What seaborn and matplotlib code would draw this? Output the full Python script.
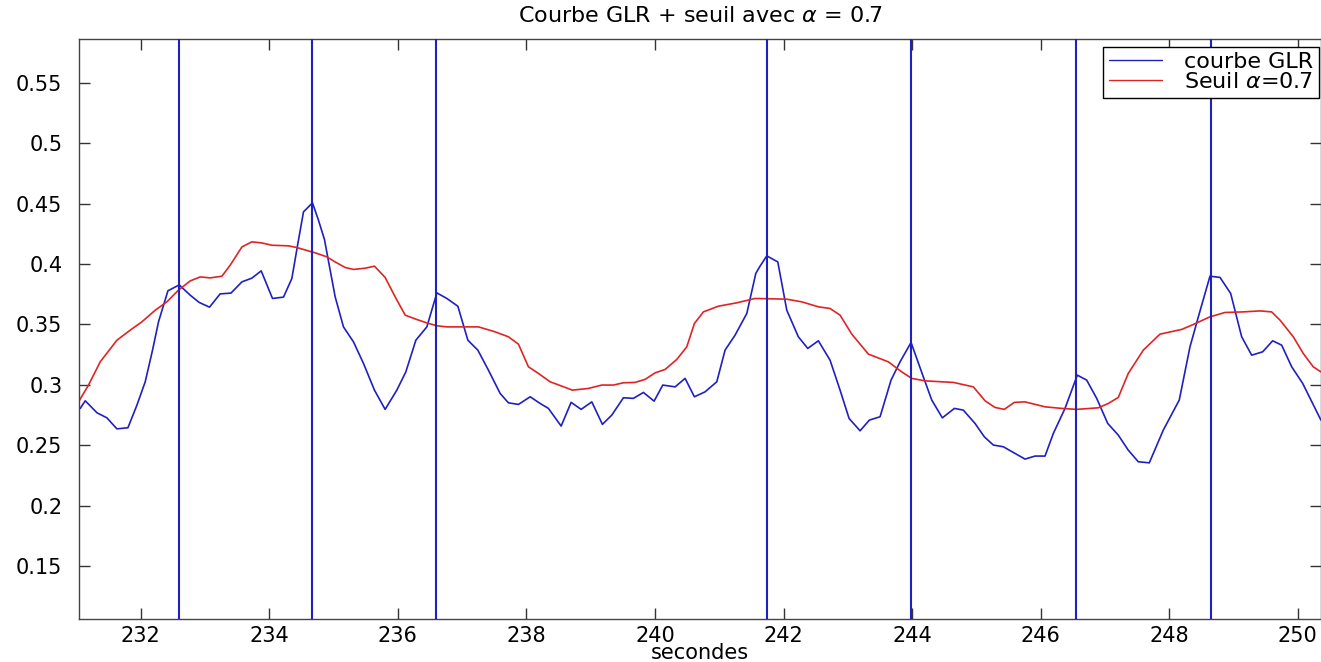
import numpy as np
import pandas as pd
import matplotlib
matplotlib.use("Agg")
import matplotlib.pyplot as plt
from matplotlib.ticker import FormatStrFormatter
import seaborn as sns

# GLR curve (time in seconds, value)
glr_t = [231.059, 231.137, 231.319, 231.474, 231.630, 231.801, 231.941, 232.070, 232.184, 232.277,
         232.423, 232.599, 232.770, 232.910, 233.070, 233.236, 233.403, 233.574, 233.729, 233.874,
         234.050, 234.221, 234.351, 234.445, 234.532, 234.672, 234.765, 234.858, 234.947, 235.025,
         235.154, 235.310, 235.465, 235.636, 235.802, 235.984, 236.124, 236.280, 236.451, 236.607,
         236.762, 236.933, 237.089, 237.244, 237.409, 237.591, 237.720, 237.876, 238.058, 238.213,
         238.342, 238.540, 238.695, 238.851, 239.017, 239.182, 239.328, 239.509, 239.664, 239.820,
         239.986, 240.121, 240.313, 240.468, 240.613, 240.779, 240.961, 241.090, 241.246, 241.428,
         241.568, 241.634, 241.739, 241.910, 242.050, 242.230, 242.376, 242.541, 242.723, 242.879,
         243.019, 243.190, 243.334, 243.501, 243.672, 243.812, 243.983, 244.174, 244.305, 244.470,
         244.657, 244.796, 244.978, 245.123, 245.263, 245.418, 245.600, 245.756, 245.912, 246.067,
         246.196, 246.378, 246.569, 246.715, 246.871, 247.042, 247.207, 247.362, 247.518, 247.689,
         247.907, 248.155, 248.322, 248.467, 248.633, 248.789, 248.955, 249.126, 249.282, 249.453,
         249.608, 249.748, 249.904, 250.075, 250.230, 250.359]
glr_v = [0.2806, 0.2869, 0.2770, 0.2728, 0.2637, 0.2646, 0.2833, 0.3026, 0.3288, 0.3522,
         0.3778, 0.3827, 0.3742, 0.3682, 0.3643, 0.3753, 0.3759, 0.3852, 0.3883, 0.3943,
         0.3715, 0.3726, 0.3880, 0.4170, 0.4431, 0.4505, 0.4362, 0.4203, 0.3949, 0.3728,
         0.3480, 0.3356, 0.3178, 0.2957, 0.2798, 0.2957, 0.3108, 0.3370, 0.3480, 0.3761,
         0.3715, 0.3651, 0.3370, 0.3288, 0.3122, 0.2930, 0.2852, 0.2839, 0.2902, 0.2847,
         0.2806, 0.2660, 0.2856, 0.2798, 0.2860, 0.2674, 0.2751, 0.2894, 0.2889, 0.2938,
         0.2866, 0.2999, 0.2984, 0.3054, 0.2902, 0.2943, 0.3026, 0.3288, 0.3412, 0.3591,
         0.3922, 0.3982, 0.4067, 0.4017, 0.3618, 0.3398, 0.3302, 0.3365, 0.3205, 0.2957,
         0.2723, 0.2621, 0.2709, 0.2737, 0.3040, 0.3191, 0.3351, 0.3067, 0.2875, 0.2728,
         0.2806, 0.2792, 0.2682, 0.2571, 0.2503, 0.2489, 0.2434, 0.2387, 0.2412, 0.2412,
         0.2599, 0.2806, 0.3081, 0.3040, 0.2889, 0.2682, 0.2585, 0.2461, 0.2365, 0.2356,
         0.2627, 0.2875, 0.3315, 0.3591, 0.3899, 0.3889, 0.3756, 0.3398, 0.3246, 0.3274,
         0.3365, 0.3329, 0.3150, 0.3013, 0.2847, 0.2709]

# Threshold curve (alpha = 0.7)
seuil_t = [231.033, 231.188, 231.370, 231.630, 231.837, 232.019, 232.226, 232.407, 232.588, 232.770,
           232.925, 233.081, 233.263, 233.392, 233.574, 233.729, 233.885, 234.040, 234.299, 234.429,
           234.714, 234.896, 235.025, 235.180, 235.310, 235.491, 235.636, 235.802, 235.958, 236.114,
           236.295, 236.451, 236.607, 236.762, 236.995, 237.254, 237.513, 237.720, 237.876, 238.031,
           238.187, 238.369, 238.551, 238.715, 238.964, 239.173, 239.353, 239.509, 239.690, 239.846,
           240.002, 240.157, 240.339, 240.494, 240.613, 240.753, 240.986, 241.272, 241.557, 241.817,
           242.050, 242.283, 242.541, 242.723, 242.879, 243.061, 243.319, 243.630, 243.838, 243.994,
           244.200, 244.460, 244.641, 244.952, 245.134, 245.289, 245.434, 245.589, 245.756, 246.067,
           246.327, 246.560, 246.896, 247.052, 247.207, 247.362, 247.596, 247.855, 248.193, 248.348,
           248.633, 248.866, 249.151, 249.410, 249.592, 249.722, 249.929, 250.084, 250.239, 250.359]
seuil_v = [0.2860, 0.2999, 0.3191, 0.3370, 0.3453, 0.3522, 0.3618, 0.3687, 0.3784, 0.3860,
           0.3893, 0.3885, 0.3899, 0.3990, 0.4141, 0.4183, 0.4174, 0.4155, 0.4150, 0.4136,
           0.4092, 0.4059, 0.4017, 0.3971, 0.3955, 0.3965, 0.3982, 0.3889, 0.3728, 0.3577,
           0.3541, 0.3513, 0.3489, 0.3480, 0.3480, 0.3480, 0.3439, 0.3398, 0.3337, 0.3150,
           0.3095, 0.3026, 0.2990, 0.2957, 0.2971, 0.2999, 0.2999, 0.3018, 0.3021, 0.3046,
           0.3100, 0.3128, 0.3211, 0.3315, 0.3508, 0.3604, 0.3651, 0.3679, 0.3715, 0.3712,
           0.3709, 0.3687, 0.3646, 0.3632, 0.3577, 0.3420, 0.3255, 0.3191, 0.3108, 0.3054,
           0.3034, 0.3026, 0.3021, 0.2984, 0.2869, 0.2814, 0.2798, 0.2856, 0.2860, 0.2819,
           0.2806, 0.2798, 0.2811, 0.2847, 0.2897, 0.3095, 0.3288, 0.3420, 0.3459, 0.3494,
           0.3563, 0.3599, 0.3604, 0.3612, 0.3604, 0.3536, 0.3398, 0.3260, 0.3150, 0.3108]

# Detected change instants (vertical lines)
detections = [232.60, 234.67, 236.60, 241.74, 243.99, 246.55, 248.65]

x_ticks = [232, 234, 236, 238, 240, 242, 244, 246, 248, 250]
y_ticks = [0.15, 0.2, 0.25, 0.3, 0.35, 0.4, 0.45, 0.5, 0.55]

title = "Courbe GLR + seuil avec $\\alpha$ = 0.7"
label_glr = "courbe GLR"
label_seuil = "Seuil $\\alpha$=0.7"
xlabel = "secondes"

BLUE = "#2020c0"
RED = "#e02424"

sns.set_style("ticks")
plt.rcParams["font.family"] = ["DejaVu Sans"]
plt.rcParams["mathtext.fontset"] = "dejavusans"
plt.rcParams["text.color"] = "black"
plt.rcParams["axes.labelcolor"] = "black"

df = pd.concat([
    pd.DataFrame({"t": glr_t, "v": glr_v, "serie": label_glr}),
    pd.DataFrame({"t": seuil_t, "v": seuil_v, "serie": label_seuil}),
], ignore_index=True)

fig = plt.figure(figsize=(13.21, 6.62), dpi=100)
ax = fig.add_axes([79 / 1321, 1 - 619 / 662, 1 - 79 / 1321, (619 - 39) / 662])

sns.lineplot(data=df, x="t", y="v", hue="serie", palette={label_glr: BLUE, label_seuil: RED},
             estimator=None, sort=False, linewidth=1.2, ax=ax, legend=True)
handles, labels = ax.get_legend_handles_labels()
ax.get_legend().remove()

for d in detections:
    ax.axvline(d, color=BLUE, linewidth=1.5, zorder=3)

ax.set_xlim(231.04, 250.36)
ax.set_ylim(0.1065, 0.586)
ax.set_xticks(x_ticks)
ax.set_yticks(y_ticks)
ax.yaxis.set_major_formatter(FormatStrFormatter("%g"))
ax.tick_params(direction="in", top=True, right=True, length=8, width=1.0,
               labelsize=15, colors="#333333", labelcolor="black")
ax.tick_params(axis="y", pad=12)
ax.tick_params(axis="x", pad=5)
for s in ax.spines.values():
    s.set_color("#444444")
    s.set_linewidth(1.0)
# the right-hand tick at 0.55 sits under the legend box
ax.yaxis.get_major_ticks()[-1].tick2line.set_visible(False)

ax.set_xlabel(xlabel, fontsize=15, labelpad=-2, color="black")
ax.set_ylabel("")
ax.set_title(title, fontsize=16, pad=12, color="black")

leg = fig.legend(handles, labels, loc="upper right", bbox_to_anchor=(1319 / 1321, 1 - 46.5 / 662),
                 fontsize=16, frameon=True, fancybox=False, framealpha=1, edgecolor="black",
                 facecolor="white", handlelength=2.4, borderpad=0.25, labelspacing=0.0,
                 handletextpad=1.0, borderaxespad=0, labelcolor="black")
leg.get_frame().set_linewidth(1.0)
for line in leg.get_lines():
    line.set_linewidth(1.0)

fig.savefig("out.png", dpi=100)
